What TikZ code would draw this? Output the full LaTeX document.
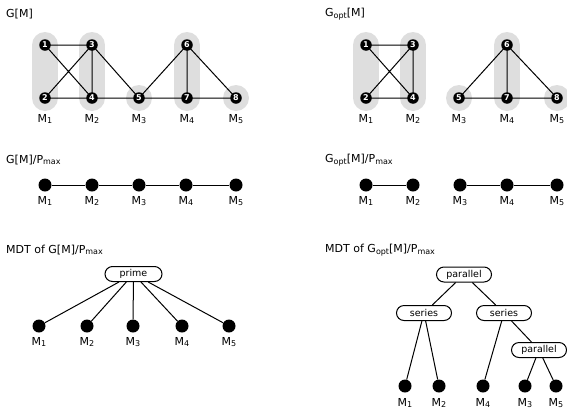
\documentclass[tikz,border=0pt]{standalone}
\usepackage{fontspec}
\setmainfont{DejaVu Sans}
\usetikzlibrary{backgrounds}
\newcommand{\mysub}[1]{\raisebox{-0.25ex}{\fontsize{8}{9}\selectfont #1}}
\definecolor{blob}{HTML}{DEDEDE}
\tikzset{
  vtx/.style={circle,fill=black,inner sep=0pt,minimum size=11.5pt,text=white,font=\fontsize{8}{9}\selectfont\bfseries},
  dot/.style={circle,fill=black,inner sep=0pt,minimum size=13pt},
  lab/.style={font=\fontsize{11}{13}\selectfont,inner sep=0pt},
  ttl/.style={font=\fontsize{11}{13}\selectfont,anchor=west,inner sep=0pt},
  edge/.style={line width=1pt},
  mod/.style={line width=26pt,line cap=round,blob},
  tnode/.style={draw,line width=1pt,rounded corners=7.5pt,minimum height=15pt,minimum width=55pt,inner sep=1pt,font=\fontsize{9.5}{10}\selectfont,fill=white},
}
\begin{document}
\begin{tikzpicture}[x=1pt,y=-1pt]
\useasboundingbox (0,0) rectangle (567,418);
% ---------- G[M]
\node[ttl] (t1) at (6,14) {G[M]};
\node[vtx] (a1) at (45,45) {1};
\node[vtx] (a2) at (45,98) {2};
\node[vtx] (a3) at (92,45) {3};
\node[vtx] (a4) at (92,98) {4};
\node[vtx] (a5) at (139,98) {5};
\node[vtx] (a6) at (187,45) {6};
\node[vtx] (a7) at (187,98) {7};
\node[vtx] (a8) at (236,98) {8};
\begin{pgfonlayer}{background}
\draw[mod] (a1.center) -- (a2.center);
\draw[mod] (a3.center) -- (a4.center);
\draw[mod] (a6.center) -- (a7.center);
\fill[blob] (a5.center) circle (13);
\fill[blob] (a8.center) circle (13);
\draw[edge] (a1.center) -- (a3.center) (a1.center) -- (a4.center) (a2.center) -- (a3.center) (a2.center) -- (a4.center)
  (a3.center) -- (a4.center) (a3.center) -- (a5.center) (a4.center) -- (a5.center) (a5.center) -- (a6.center)
  (a5.center) -- (a7.center) (a6.center) -- (a7.center) (a6.center) -- (a8.center) (a7.center) -- (a8.center);
\end{pgfonlayer}
\node[lab] (am1) at (45,119) {M\mysub{1}};
\node[lab] (am2) at (92,119) {M\mysub{2}};
\node[lab] (am3) at (139,119) {M\mysub{3}};
\node[lab] (am4) at (187,119) {M\mysub{4}};
\node[lab] (am5) at (236,119) {M\mysub{5}};
% ---------- Gopt[M]
\node[ttl] (t2) at (325,14) {G\mysub{opt}[M]};
\node[vtx] (b1) at (366,45) {1};
\node[vtx] (b2) at (366,98) {2};
\node[vtx] (b3) at (413,45) {3};
\node[vtx] (b4) at (413,98) {4};
\node[vtx] (b5) at (459,98) {5};
\node[vtx] (b6) at (507,45) {6};
\node[vtx] (b7) at (507,98) {7};
\node[vtx] (b8) at (557,98) {8};
\begin{pgfonlayer}{background}
\draw[mod] (b1.center) -- (b2.center);
\draw[mod] (b3.center) -- (b4.center);
\draw[mod] (b6.center) -- (b7.center);
\fill[blob] (b5.center) circle (13);
\fill[blob] (b8.center) circle (13);
\draw[edge] (b1.center) -- (b3.center) (b1.center) -- (b4.center) (b2.center) -- (b3.center) (b2.center) -- (b4.center)
  (b3.center) -- (b4.center) (b5.center) -- (b6.center)
  (b5.center) -- (b7.center) (b6.center) -- (b7.center) (b6.center) -- (b8.center) (b7.center) -- (b8.center);
\end{pgfonlayer}
\node[lab] (bm1) at (366,119) {M\mysub{1}};
\node[lab] (bm2) at (413,119) {M\mysub{2}};
\node[lab] (bm3) at (459,119) {M\mysub{3}};
\node[lab] (bm4) at (507,119) {M\mysub{4}};
\node[lab] (bm5) at (557,119) {M\mysub{5}};
% ---------- G[M]/Pmax
\node[ttl] (t3) at (6,160) {G[M]/P\mysub{max}};
\node[dot] (c1) at (45,185) {};
\node[dot] (c2) at (92,185) {};
\node[dot] (c3) at (139,185) {};
\node[dot] (c4) at (186,185) {};
\node[dot] (c5) at (236,185) {};
\draw[edge] (c1) -- (c2) (c2) -- (c3) (c3) -- (c4) (c4) -- (c5);
\node[lab] (cm1) at (45,201) {M\mysub{1}};
\node[lab] (cm2) at (92,201) {M\mysub{2}};
\node[lab] (cm3) at (139,201) {M\mysub{3}};
\node[lab] (cm4) at (186,201) {M\mysub{4}};
\node[lab] (cm5) at (236,201) {M\mysub{5}};
% ---------- Gopt[M]/Pmax
\node[ttl] (t4) at (325,160) {G\mysub{opt}[M]/P\mysub{max}};
\node[dot] (d1) at (366,185) {};
\node[dot] (d2) at (413,185) {};
\node[dot] (d3) at (460,185) {};
\node[dot] (d4) at (507,185) {};
\node[dot] (d5) at (557,185) {};
\draw[edge] (d1) -- (d2) (d3) -- (d4) (d4) -- (d5);
\node[lab] (dm1) at (366,201) {M\mysub{1}};
\node[lab] (dm2) at (413,201) {M\mysub{2}};
\node[lab] (dm3) at (460,201) {M\mysub{3}};
\node[lab] (dm4) at (507,201) {M\mysub{4}};
\node[lab] (dm5) at (557,201) {M\mysub{5}};
% ---------- MDT of G[M]/Pmax
\node[ttl] (t5) at (6,250) {MDT of G[M]/P\mysub{max}};
\node[tnode,minimum width=57pt] (pr) at (133.5,274) {prime};
\node[dot] (e1) at (39,326) {};
\node[dot] (e2) at (87,326) {};
\node[dot] (e3) at (133,326) {};
\node[dot] (e4) at (182,326) {};
\node[dot] (e5) at (229,326) {};
\draw[edge] (pr) -- (e1) (pr) -- (e2) (pr) -- (e3) (pr) -- (e4) (pr) -- (e5);
\node[lab] (em1) at (39,342) {M\mysub{1}};
\node[lab] (em2) at (87,342) {M\mysub{2}};
\node[lab] (em3) at (133,342) {M\mysub{3}};
\node[lab] (em4) at (182,342) {M\mysub{4}};
\node[lab] (em5) at (229,342) {M\mysub{5}};
% ---------- MDT of Gopt[M]/Pmax
\node[ttl] (t6) at (325,250) {MDT of G\mysub{opt}[M]/P\mysub{max}};
\node[tnode] (p1) at (464,274.5) {parallel};
\node[tnode] (s1) at (424,313) {series};
\node[tnode] (s2) at (504,313) {series};
\node[tnode] (p2) at (539,350) {parallel};
\node[dot] (f1) at (405,386) {};
\node[dot] (f2) at (439,386) {};
\node[dot] (f4) at (483,386) {};
\node[dot] (f3) at (525,386) {};
\node[dot] (f5) at (556,386) {};
\draw[edge] (p1) -- (s1) (p1) -- (s2) (s1) -- (f1) (s1) -- (f2) (s2) -- (f4) (s2) -- (p2) (p2) -- (f3) (p2) -- (f5);
\node[lab] (fm1) at (405,403) {M\mysub{1}};
\node[lab] (fm2) at (439,403) {M\mysub{2}};
\node[lab] (fm4) at (483,403) {M\mysub{4}};
\node[lab] (fm3) at (525,403) {M\mysub{3}};
\node[lab] (fm5) at (556,403) {M\mysub{5}};
\end{tikzpicture}
\end{document}
